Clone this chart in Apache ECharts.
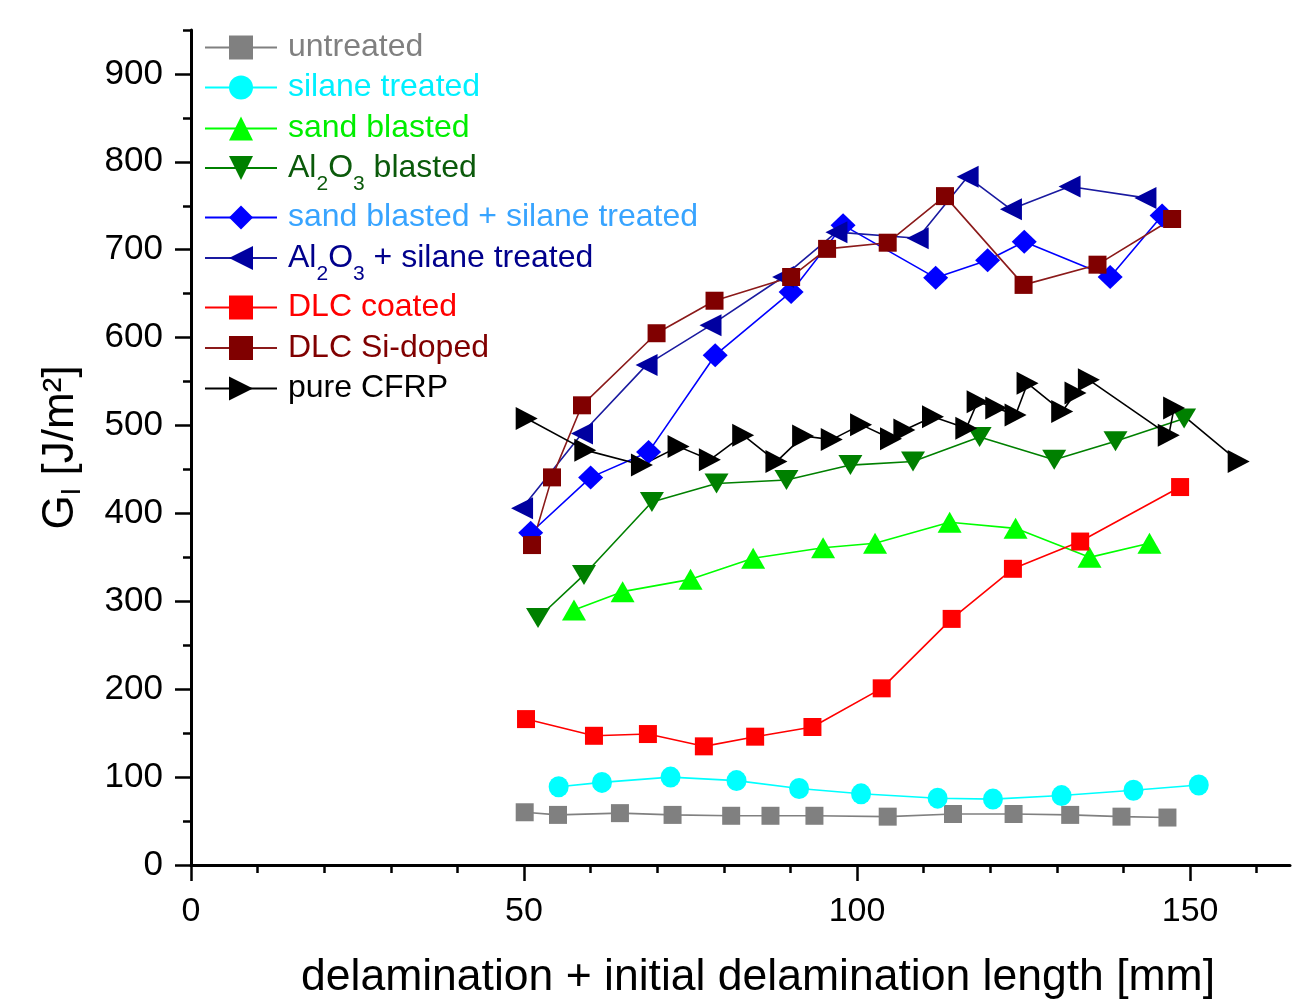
<!DOCTYPE html>
<html>
<head>
<meta charset="utf-8">
<title>Mode I fracture toughness</title>
<script src="https://cdn.jsdelivr.net/npm/echarts@6/dist/echarts.min.js"></script>
<style>
  html, body { margin: 0; padding: 0; background: #ffffff; }
  #chart { width: 1301px; height: 1001px; }
</style>
</head>
<body>
<div id="chart"></div>
<script>
// Mode I energy release rate G_I over delamination length for each surface treatment

const untreatedX = [50.1, 55.1, 64.4, 72.3, 81.1, 87.0, 93.6, 104.6, 114.4, 123.5, 132.0, 139.7, 146.6];
const untreatedY = [60, 57, 59, 57, 56, 56, 56, 55, 58, 58, 57, 55, 54];

const silaneX = [55.2, 61.7, 72.0, 81.9, 91.3, 100.6, 112.1, 120.4, 130.7, 141.5, 151.3];
const silaneY = [89, 94, 100, 96, 87, 81, 76, 75, 79, 85, 91];

const sandX = [57.5, 64.8, 75.0, 84.4, 94.9, 102.7, 113.9, 123.8, 134.9, 143.9];
const sandY = [290, 311, 325, 349, 361, 366, 390, 383, 350, 366];

const aluminaX = [52.1, 59.0, 69.2, 78.9, 89.4, 99.0, 108.4, 118.4, 129.6, 138.8, 149.1];
const aluminaY = [281, 330, 413, 434, 438, 455, 459, 487, 461, 482, 508];

const sandSilaneX = [51.0, 60.0, 68.7, 78.7, 90.1, 97.9, 111.8, 119.6, 125.1, 138.0, 145.8];
const sandSilaneY = [378, 441, 470, 580, 652, 728, 668, 688, 709, 669, 739];

const aluminaSilaneX = [49.7, 58.7, 68.4, 78.0, 88.9, 96.9, 109.1, 116.6, 123.1, 131.9, 143.3];
const aluminaSilaneY = [406, 491, 569, 614, 669, 720, 713, 783, 746, 772, 759];

const dlcX = [50.3, 60.5, 68.6, 77.0, 84.7, 93.3, 103.7, 114.2, 123.4, 133.5, 148.5];
const dlcY = [166, 147, 149, 135, 146, 157, 201, 280, 337, 368, 430];

const dlcSiX = [51.2, 54.2, 58.7, 69.9, 78.6, 90.1, 95.5, 104.6, 113.2, 125.0, 136.1, 147.3];
const dlcSiY = [364, 441, 523, 605, 642, 669, 701, 708, 761, 660, 683, 735];

const cfrpX = [50.4, 59.2, 67.7, 73.2, 77.9, 82.9, 87.9, 91.9, 96.2, 100.6, 105.1, 107.1,
               111.4, 116.4, 118.1, 120.9, 123.8, 125.6, 130.8, 132.8, 134.8, 146.8, 147.6, 157.3];
const cfrpY = [508, 472, 455, 476, 461, 489, 459, 488, 484, 501, 485, 495,
               510, 497, 527, 520, 512, 548, 516, 537, 552, 489, 520, 459];

const seriesNames = [
  'untreated', 'silane treated', 'sand blasted', 'Al2O3 blasted',
  'sand blasted + silane treated', 'Al2O3 + silane treated',
  'DLC coated', 'DLC Si-doped', 'pure CFRP'
];

const xMajorTicks = [0, 50, 100, 150];
const xMinorTicks = [10, 20, 30, 40, 60, 70, 80, 90, 110, 120, 130, 140, 160];
const yMajorTicks = [0, 100, 200, 300, 400, 500, 600, 700, 800, 900];
const yMinorTicks = [50, 150, 250, 350, 450, 550, 650, 750, 850, 950];

const xTitle = 'delamination + initial delamination length [mm]';

// ---- styling ----
const FONT = '"Liberation Sans", Arial, Helvetica, sans-serif';

const zip = (xs, ys) => xs.map((x, i) => [x, ys[i]]);

const TRI_UP = 'triangle';
const TRI_DOWN = 'path://M0,0L10,0L5,10Z';
const TRI_LEFT = 'path://M10,0L0,5L10,10Z';
const TRI_RIGHT = 'path://M0,0L10,5L0,10Z';

const styles = [
  { symbol: 'rect',    size: [18, 18], mark: '#808080', line: '#808080', text: '#808080' },
  { symbol: 'circle',  size: [20, 21], mark: '#00ffff', line: '#00ffff', text: '#00f0ff' },
  { symbol: TRI_UP,    size: [24, 21], mark: '#00ff00', line: '#00ff00', text: '#00ee00' },
  { symbol: TRI_DOWN,  size: [24, 20], mark: '#008000', line: '#008000', text: '#0b5a0b' },
  { symbol: 'diamond', size: [25, 24], mark: '#0000ff', line: '#0000ff', text: '#38a4ff' },
  { symbol: TRI_LEFT,  size: [22, 22], mark: '#0000a0', line: '#1a1aa0', text: '#00008c' },
  { symbol: 'rect',    size: [18, 18], mark: '#ff0000', line: '#ff0000', text: '#ff0000' },
  { symbol: 'rect',    size: [18, 18], mark: '#800000', line: '#8b1a1a', text: '#800000' },
  { symbol: TRI_RIGHT, size: [22, 23], mark: '#000000', line: '#000000', text: '#000000' }
];

const seriesData = [
  zip(untreatedX, untreatedY),
  zip(silaneX, silaneY),
  zip(sandX, sandY),
  zip(aluminaX, aluminaY),
  zip(sandSilaneX, sandSilaneY),
  zip(aluminaSilaneX, aluminaSilaneY),
  zip(dlcX, dlcY),
  zip(dlcSiX, dlcSiY),
  zip(cfrpX, cfrpY)
];

// legend icon centre lines (px from top)
const legendRows = [46.5, 86.5, 127.5, 168, 216.5, 258, 306.5, 347, 387.5];
const LEGEND_ICON_H = 30;

function legendLabel(name) {
  // chemical formula with subscript digits
  return name.replace(/Al2O3/, '{n|Al}{s|2}{n|O}{s|3}{n|')
             .replace(/^([^{])/, '{n|$1') + '}';
}

const hasSub = (name) => name.indexOf('Al2O3') >= 0;

const legends = seriesNames.map((name, i) => {
  const c = styles[i].text;
  const sub = hasSub(name);
  return {
    data: [name],
    left: 204,
    top: legendRows[i] - (sub ? 11.5 + LEGEND_ICON_H / 2 : LEGEND_ICON_H / 2),
    orient: 'vertical',
    padding: 0,
    itemWidth: 72,
    itemHeight: LEGEND_ICON_H,
    selectedMode: false,
    formatter: (n) => legendLabel(n),
    textStyle: {
      color: c,
      fontFamily: FONT,
      fontSize: 32,
      lineHeight: LEGEND_ICON_H,
      padding: [0, 0, 0, 6],
      rich: {
        n: { color: c, fontFamily: FONT, fontSize: 32, lineHeight: sub ? 32 : LEGEND_ICON_H, verticalAlign: 'middle' },
        s: { color: c, fontFamily: FONT, fontSize: 21, lineHeight: 21, padding: [32, 0, 0, 0], verticalAlign: 'middle' }
      }
    }
  };
});

const series = seriesNames.map((name, i) => ({
  type: 'line',
  name: name,
  data: seriesData[i],
  xAxisIndex: 0,
  yAxisIndex: 0,
  symbol: styles[i].symbol,
  symbolSize: styles[i].size,
  showSymbol: true,
  lineStyle: { color: styles[i].line, width: 1.6 },
  itemStyle: { color: styles[i].mark, borderWidth: 0 },
  emphasis: { disabled: true },
  animation: false
}));

const axisLineStyle = { color: '#000000', width: 3 };
const tickStyle = { color: '#000000', width: 2.5 };

const option = {
  backgroundColor: '#ffffff',
  animation: false,
  grid: { left: 191, right: 11, top: 30, bottom: 136, containLabel: false, outerBoundsMode: 'none' },
  legend: legends,
  xAxis: [
    {
      type: 'value', min: 0, max: 165, interval: 50, position: 'bottom',
      axisLine: { show: true, onZero: false, lineStyle: axisLineStyle },
      axisTick: { show: true, inside: false, length: 16, customValues: xMajorTicks, lineStyle: tickStyle },
      minorTick: { show: false },
      splitLine: { show: false },
      axisLabel: { show: true, customValues: xMajorTicks, margin: 30, color: '#000000', fontFamily: FONT, fontSize: 34 },
      name: xTitle,
      nameLocation: 'middle',
      nameGap: 90,
      nameMoveOverlap: false,
      nameTextStyle: { color: '#000000', fontFamily: FONT, fontSize: 44.5, padding: [0, 0, 0, 35] }
    },
    {
      type: 'value', min: 0, max: 165, position: 'bottom',
      axisLine: { show: false, onZero: false },
      axisTick: { show: true, inside: false, length: 8, customValues: xMinorTicks, lineStyle: tickStyle },
      axisLabel: { show: false },
      splitLine: { show: false }
    }
  ],
  yAxis: [
    {
      type: 'value', min: 0, max: 950, interval: 100, position: 'left',
      axisLine: { show: true, onZero: false, lineStyle: axisLineStyle },
      axisTick: { show: true, inside: false, length: 16, customValues: yMajorTicks, lineStyle: tickStyle },
      minorTick: { show: false },
      splitLine: { show: false },
      axisLabel: { show: true, customValues: yMajorTicks, margin: 28, color: '#000000', fontFamily: FONT, fontSize: 35 },
      name: '{g|G}{s|I}{g| [J/m²]}',
      nameLocation: 'middle',
      nameRotate: 90,
      nameGap: 108,
      nameMoveOverlap: false,
      nameTextStyle: {
        color: '#000000', fontFamily: FONT, fontSize: 44,
        rich: {
          g: { color: '#000000', fontFamily: FONT, fontSize: 44, lineHeight: 44, verticalAlign: 'middle' },
          s: { color: '#000000', fontFamily: FONT, fontSize: 28, lineHeight: 28, padding: [22, 0, 0, 0], verticalAlign: 'middle' }
        }
      }
    },
    {
      type: 'value', min: 0, max: 950, position: 'left',
      axisLine: { show: false, onZero: false },
      axisTick: { show: true, inside: false, length: 8, customValues: yMinorTicks, lineStyle: tickStyle },
      axisLabel: { show: false },
      splitLine: { show: false }
    }
  ],
  series: series
};

const chart = echarts.init(document.getElementById('chart'), null, { renderer: 'canvas' });
chart.setOption(option);
</script>
</body>
</html>
